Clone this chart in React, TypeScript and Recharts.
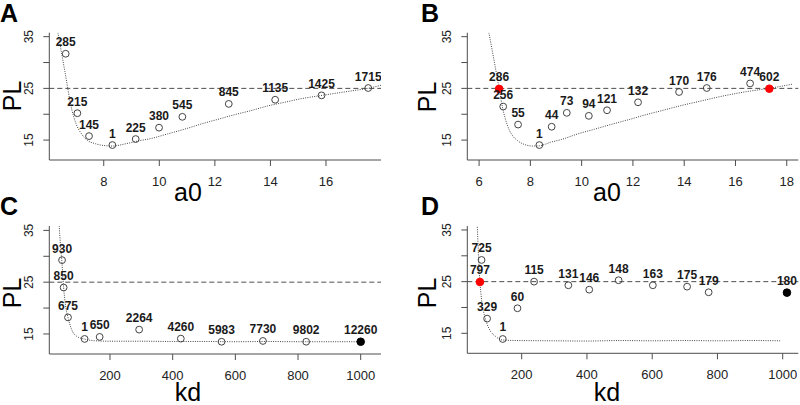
import React from "react";
import { ComposedChart, Line, Scatter, XAxis, YAxis, ReferenceLine } from "recharts";

// fitted curves (dotted) and labelled fits (circles)
const curveA = [
  { x: 6.35, y: 35.8 }, { x: 6.6, y: 28.3 }, { x: 6.85, y: 20.9 }, { x: 7.0, y: 18.2 },
  { x: 7.2, y: 16.2 }, { x: 7.4, y: 15.0 }, { x: 7.7, y: 14.3 }, { x: 8.0, y: 13.95 },
  { x: 8.3, y: 13.85 }, { x: 8.8, y: 14.3 }, { x: 9.3, y: 14.9 }, { x: 9.7, y: 15.3 },
  { x: 10.3, y: 16.2 }, { x: 10.9, y: 17.1 }, { x: 11.5, y: 18.1 }, { x: 12.1, y: 19.0 },
  { x: 12.7, y: 19.9 }, { x: 13.3, y: 20.7 }, { x: 13.9, y: 21.6 }, { x: 14.5, y: 22.3 },
  { x: 15.1, y: 23.0 }, { x: 15.8, y: 23.6 }, { x: 16.4, y: 24.1 }, { x: 16.9, y: 24.5 },
  { x: 17.5, y: 25.0 }, { x: 17.98, y: 25.6 },
];

const pointsA = [
  { x: 6.63, y: 31.7, n: "285" },
  { x: 7.05, y: 20.2, n: "215" },
  { x: 7.47, y: 15.77, n: "145" },
  { x: 8.31, y: 14.04, n: "1" },
  { x: 9.15, y: 15.2, n: "225" },
  { x: 9.99, y: 17.4, n: "380" },
  { x: 10.83, y: 19.5, n: "545" },
  { x: 12.5, y: 22.0, n: "845" },
  { x: 14.17, y: 22.8, n: "1135" },
  { x: 15.84, y: 23.65, n: "1425" },
  { x: 17.52, y: 25.07, n: "1715" },
];

const curveB = [
  { x: 6.38, y: 35.8 }, { x: 6.58, y: 30.5 }, { x: 6.78, y: 25.0 }, { x: 6.91, y: 21.4 },
  { x: 7.1, y: 17.9 }, { x: 7.3, y: 15.9 }, { x: 7.5, y: 14.9 }, { x: 7.8, y: 14.1 },
  { x: 8.1, y: 13.85 }, { x: 8.35, y: 13.9 }, { x: 8.8, y: 14.6 }, { x: 9.2, y: 15.1 },
  { x: 9.85, y: 16.2 }, { x: 10.5, y: 17.1 }, { x: 11.2, y: 18.1 }, { x: 11.8, y: 18.9 },
  { x: 12.5, y: 19.9 }, { x: 13.2, y: 20.8 }, { x: 13.9, y: 21.7 }, { x: 14.6, y: 22.5 },
  { x: 15.3, y: 23.3 }, { x: 16.0, y: 24.0 }, { x: 16.6, y: 24.5 }, { x: 17.3, y: 25.0 },
  { x: 18.2, y: 25.8 },
];

const pointsB = [
  { x: 6.78, y: 24.9, n: "286", kind: "red" },
  { x: 6.94, y: 21.48, n: "256" },
  { x: 7.52, y: 18.0, n: "55" },
  { x: 8.35, y: 14.04, n: "1" },
  { x: 8.83, y: 17.58, n: "44" },
  { x: 9.42, y: 20.27, n: "73" },
  { x: 10.28, y: 19.69, n: "94" },
  { x: 10.99, y: 20.77, n: "121" },
  { x: 12.2, y: 22.31, n: "132" },
  { x: 13.8, y: 24.3, n: "170" },
  { x: 14.88, y: 25.07, n: "176" },
  { x: 16.57, y: 25.96, n: "474" },
  { x: 17.32, y: 24.94, n: "602", kind: "red" },
];

const curveC = [
  { x: 38, y: 35.9 }, { x: 42, y: 32.0 }, { x: 46, y: 29.3 }, { x: 52, y: 24.0 },
  { x: 58, y: 20.5 }, { x: 66, y: 18.2 }, { x: 78, y: 15.8 }, { x: 95, y: 14.5 },
  { x: 119, y: 14.0 }, { x: 150, y: 13.7 }, { x: 200, y: 13.6 }, { x: 300, y: 13.6 },
  { x: 400, y: 13.55 }, { x: 500, y: 13.55 }, { x: 600, y: 13.5 }, { x: 700, y: 13.55 },
  { x: 800, y: 13.5 }, { x: 900, y: 13.5 }, { x: 1008, y: 13.5 },
];

const pointsC = [
  { x: 47, y: 29.26, n: "930" },
  { x: 52, y: 23.97, n: "850" },
  { x: 66, y: 18.2, n: "675" },
  { x: 119, y: 14.04, n: "1" },
  { x: 167, y: 14.43, n: "650" },
  { x: 293, y: 15.84, n: "2264" },
  { x: 426, y: 14.1, n: "4260" },
  { x: 556, y: 13.5, n: "5983" },
  { x: 688, y: 13.65, n: "7730" },
  { x: 826, y: 13.5, n: "9802" },
  { x: 1000, y: 13.5, n: "12260", kind: "black" },
];

const curveD = [
  { x: 64, y: 35.6 }, { x: 67, y: 31.0 }, { x: 69, y: 28.0 }, { x: 72, y: 25.0 },
  { x: 77, y: 21.5 }, { x: 87, y: 18.2 }, { x: 100, y: 15.9 }, { x: 120, y: 14.4 },
  { x: 142, y: 13.7 }, { x: 185, y: 13.6 }, { x: 300, y: 13.55 }, { x: 400, y: 13.5 },
  { x: 500, y: 13.6 }, { x: 600, y: 13.55 }, { x: 700, y: 13.6 }, { x: 800, y: 13.55 },
  { x: 900, y: 13.6 }, { x: 992, y: 13.55 },
];

const pointsD = [
  { x: 77, y: 29.2, n: "725" },
  { x: 72, y: 24.94, n: "797", kind: "red" },
  { x: 94, y: 17.84, n: "329" },
  { x: 142, y: 13.9, n: "1" },
  { x: 187, y: 19.85, n: "60" },
  { x: 238, y: 25.0, n: "115" },
  { x: 343, y: 24.3, n: "131" },
  { x: 407, y: 23.45, n: "146" },
  { x: 497, y: 25.27, n: "148" },
  { x: 602, y: 24.3, n: "163" },
  { x: 707, y: 24.03, n: "175" },
  { x: 773, y: 22.94, n: "179" },
  { x: 1013, y: 22.87, n: "180", kind: "black" },
];

const a0Ticks = [8, 10, 12, 14, 16];
const a0TicksB = [6, 8, 10, 12, 14, 16, 18];
const kdTicks = [200, 400, 600, 800, 1000];
const plTicks = [15, 20, 25, 30, 35];

const FONT = '"Liberation Sans", Arial, Helvetica, sans-serif';
const FRAME = "#4d4d4d";

const XTick = ({ x, y, payload }: any) => (
  <text x={x} y={y + 17.5} textAnchor="middle" fontSize={13} fill="#222" fontFamily={FONT}>
    {payload.value}
  </text>
);

const YTick = ({ x, y, payload }: any) => {
  if (payload.value % 10 !== 5) return null;
  const bx = x - 8;
  return (
    <text
      x={bx}
      y={y}
      transform={`rotate(-90 ${bx} ${y})`}
      textAnchor="middle"
      fontSize={12}
      fill="#222"
      fontFamily={FONT}
    >
      {payload.value}
    </text>
  );
};

const FitDot = (props: any) => {
  const { cx, cy, payload } = props;
  if (cx == null || cy == null) return null;
  const fill = payload.kind === "red" ? "#ff0000" : payload.kind === "black" ? "#000" : "none";
  const stroke = payload.kind === "red" ? "#ff0000" : payload.kind === "black" ? "#000" : "#444";
  const r = payload.kind ? 3.8 : 3.4;
  return (
    <g>
      <circle cx={cx} cy={cy} r={r} fill={fill} stroke={stroke} strokeWidth={1} />
      <text
        x={cx}
        y={cy - 7.5}
        textAnchor="middle"
        fontSize={12}
        fontWeight="bold"
        fill="#1a1a1a"
        fontFamily={FONT}
      >
        {payload.n}
      </text>
    </g>
  );
};

interface PanelProps {
  left: number;
  top: number;
  width: number;
  height: number;
  margin: { top: number; right: number; bottom: number; left: number };
  xDomain: [number, number];
  yDomain: [number, number];
  xTicks: number[];
  curve: any[];
  points: any[];
}

const Panel = ({ left, top, width, height, margin, xDomain, yDomain, xTicks, curve, points }: PanelProps) => (
  <div style={{ position: "absolute", left, top, width, height }}>
    <ComposedChart width={width} height={height} margin={margin}>
      <XAxis
        dataKey="x"
        type="number"
        domain={xDomain}
        ticks={xTicks}
        interval={0}
        allowDataOverflow
        height={30}
        tickSize={6}
        tickMargin={2}
        stroke={FRAME}
        tick={<XTick />}
      />
      <XAxis xAxisId="top" orientation="top" type="number" domain={xDomain} height={0} tick={false} tickLine={false} stroke={FRAME} />
      <YAxis
        dataKey="y"
        type="number"
        domain={yDomain}
        ticks={plTicks}
        interval={0}
        allowDataOverflow
        width={40}
        tickSize={6}
        tickMargin={2}
        stroke={FRAME}
        tick={<YTick />}
      />
      <YAxis yAxisId="right" orientation="right" type="number" domain={yDomain} width={0} tick={false} tickLine={false} stroke={FRAME} />
      <ReferenceLine y={25} stroke={FRAME} strokeDasharray="5 3" strokeWidth={1} />
      <Line
        data={curve}
        dataKey="y"
        type="monotone"
        dot={false}
        stroke="#444"
        strokeWidth={1}
        strokeDasharray="1 1.3"
        isAnimationActive={false}
      />
      <Scatter data={points} dataKey="y" shape={<FitDot />} isAnimationActive={false} />
    </ComposedChart>
  </div>
);

export default function App() {
  const yAB: [number, number] = [11.15, 35.77];
  const yCD: [number, number] = [11.13, 35.85];
  return (
    <div style={{ position: "absolute", left: 0, top: 0, width: 800, height: 405, background: "#fff", fontFamily: FONT }}>
      <Panel
        left={0} top={0} width={400} height={200}
        margin={{ top: 32.7, right: 19, bottom: 10, left: 9.3 }}
        xDomain={[6.04, 17.98]} yDomain={yAB} xTicks={a0Ticks}
        curve={curveA} points={pointsA}
      />
      <Panel
        left={400} top={0} width={400} height={200}
        margin={{ top: 32.7, right: 1.7, bottom: 10, left: 27.3 }}
        xDomain={[5.54, 18.45]} yDomain={yAB} xTicks={a0TicksB}
        curve={curveB} points={pointsB}
      />
      <Panel
        left={0} top={200} width={400} height={205}
        margin={{ top: 26, right: 19, bottom: 21, left: 9.3 }}
        xDomain={[6.3, 1064.8]} yDomain={yCD} xTicks={kdTicks}
        curve={curveC} points={pointsC}
      />
      <Panel
        left={400} top={200} width={400} height={205}
        margin={{ top: 26, right: 1.7, bottom: 21.7, left: 27.3 }}
        xDomain={[33.3, 1047.8]} yDomain={[11.13, 35.77]} xTicks={kdTicks}
        curve={curveD} points={pointsD}
      />
      <svg width={800} height={405} style={{ position: "absolute", left: 0, top: 0, pointerEvents: "none" }}>
        <g fontFamily={FONT} fontWeight="bold" fontSize={25} fill="#000">
          <text x={0} y={22}>A</text>
          <text x={421} y={22}>B</text>
          <text x={0} y={215}>C</text>
          <text x={421} y={215}>D</text>
        </g>
        <g fontFamily={FONT} fontSize={25} fill="#000">
          <text x={21} y={96} textAnchor="middle" transform="rotate(-90 21 96)">PL</text>
          <text x={436} y={97} textAnchor="middle" transform="rotate(-90 436 97)">PL</text>
          <text x={21} y={293} textAnchor="middle" transform="rotate(-90 21 293)">PL</text>
          <text x={436} y={293} textAnchor="middle" transform="rotate(-90 436 293)">PL</text>
          <text x={188} y={201} textAnchor="middle">a0</text>
          <text x={607} y={201} textAnchor="middle">a0</text>
          <text x={188} y={401} textAnchor="middle">kd</text>
          <text x={607} y={401} textAnchor="middle">kd</text>
        </g>
      </svg>
    </div>
  );
}
